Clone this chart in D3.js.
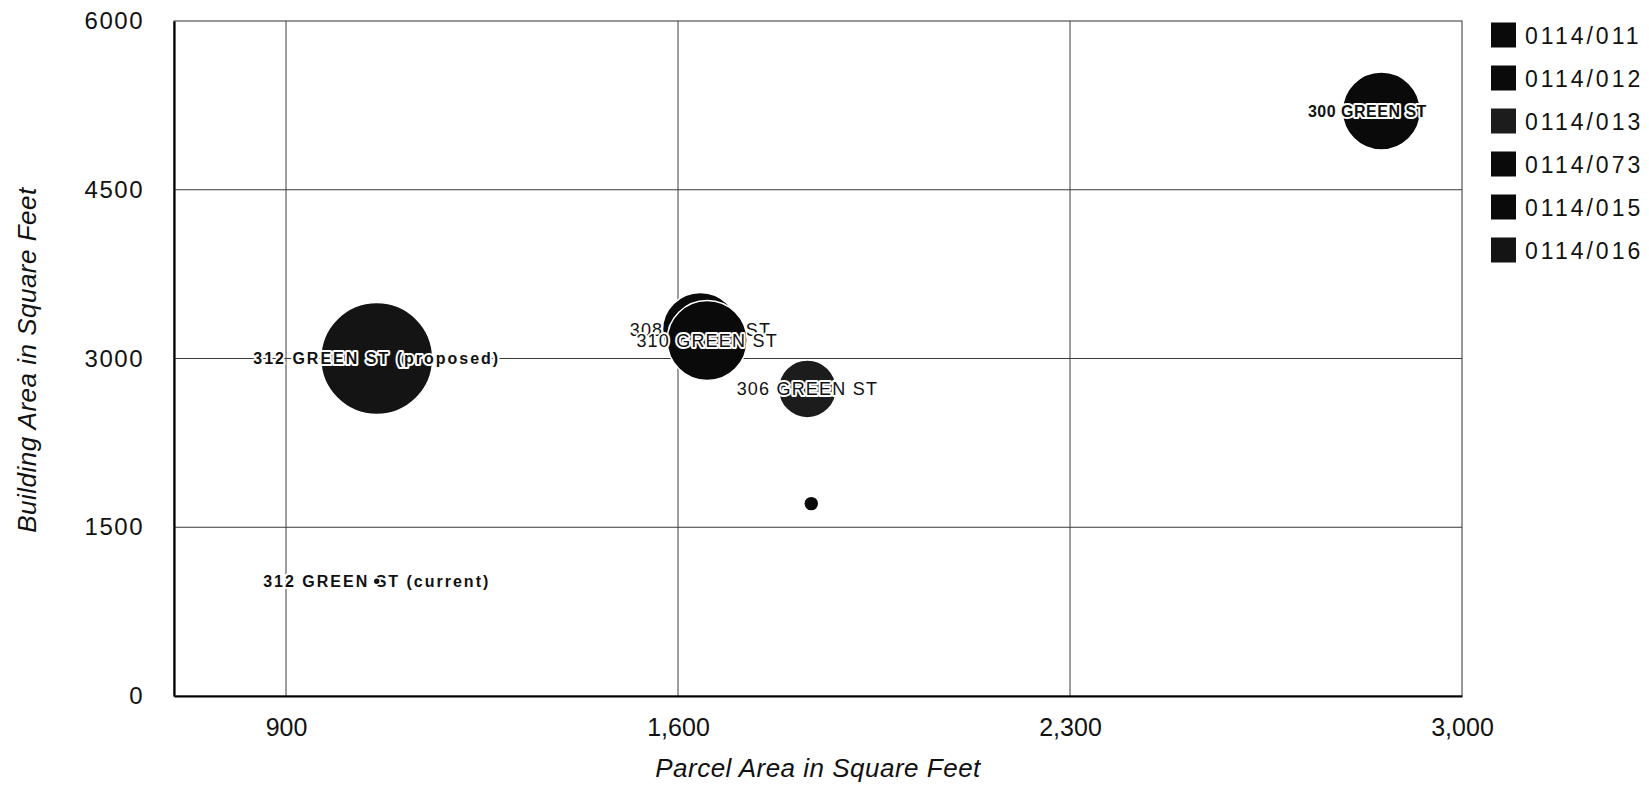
<!DOCTYPE html>
<html><head><meta charset="utf-8">
<script src="https://cdn.jsdelivr.net/npm/d3@7"></script>
<style>body{margin:0;background:#fff}</style>
</head><body><svg id="c" width="1649" height="791"></svg>
<script>
// ---- data ----
const parcels = ["0114/011","0114/012","0114/013","0114/073","0114/015","0114/016"];
const bubbleLabels = ["300 GREEN ST","308 GREEN ST","306 GREEN ST","310 GREEN ST","","312 GREEN ST (current)","312 GREEN ST (proposed)"];
const bubbleParcel = ["0114/011","0114/012","0114/013","0114/073","0114/015","0114/016","0114/016"];
const parcelArea = [2856, 1640, 1831, 1652, 1838, 1062, 1062];
const buildingArea = [5200, 3250, 2730, 3160, 1710, 1020, 3000];
const bubbleSize = [1521, 1444, 841, 1600, 56, 12, 3136];
const xTicks = [900, 1600, 2300, 3000];
const yTicks = [0, 1500, 3000, 4500, 6000];
const xTitle = "Parcel Area in Square Feet";
const yTitle = "Building Area in Square Feet";

// ---- layout ----
const W = 1649, H = 791;
const m = {left: 174, right: 187, top: 21, bottom: 95};
const iw = W - m.left - m.right, ih = H - m.top - m.bottom;
const FONT = "Arial, 'Liberation Sans', sans-serif";
const svg = d3.select("#c");
const g = svg.append("g").attr("transform", `translate(${m.left},${m.top})`);

const x = d3.scaleLinear().domain([700, 3000]).range([0, iw]);
const y = d3.scaleLinear().domain([0, 6000]).range([ih, 0]);
const r = d3.scaleSqrt().domain([0, 3136]).range([0, 56]);
const color = d3.scaleOrdinal().domain(parcels)
  .range(["#0a0a0a","#0a0a0a","#1c1c1c","#0a0a0a","#0a0a0a","#141414"]);

// gridlines
g.append("g").selectAll("line").data(xTicks.filter(v => v < 3000)).join("line")
  .attr("x1", d => x(d)).attr("x2", d => x(d)).attr("y1", 0).attr("y2", ih)
  .attr("stroke", "#3a3a3a").attr("stroke-width", 1);
g.append("g").selectAll("line").data(yTicks.filter(v => v > 0 && v < 6000)).join("line")
  .attr("y1", d => y(d)).attr("y2", d => y(d)).attr("x1", 0).attr("x2", iw)
  .attr("stroke", "#3a3a3a").attr("stroke-width", 1);
// frame
g.append("rect").attr("width", iw).attr("height", ih).attr("fill", "none")
  .attr("stroke", "#333").attr("stroke-width", 1);

// axes
const xAxis = g.append("g").attr("transform", `translate(0,${ih})`)
  .call(d3.axisBottom(x).tickValues(xTicks).tickFormat(d3.format(",")).tickSize(0).tickPadding(22));
const yAxis = g.append("g")
  .call(d3.axisLeft(y).tickValues(yTicks).tickFormat(d3.format("d")).tickSize(0).tickPadding(30));
[xAxis, yAxis].forEach(a => {
  a.select(".domain").attr("stroke", "#000").attr("stroke-width", 2.2);
  a.selectAll("text").attr("font-family", FONT).attr("fill", "#111");
});
xAxis.selectAll("text").attr("font-size", 25);
yAxis.selectAll("text").attr("font-size", 24).attr("letter-spacing", "1.5px");

// titles
svg.append("text").attr("x", 818).attr("y", 777)
  .attr("text-anchor", "middle").attr("font-family", FONT)
  .attr("font-style", "italic").attr("font-size", 26).attr("letter-spacing", "0.5px")
  .attr("fill", "#111").text(xTitle);
svg.append("text").attr("transform", `translate(36,${360}) rotate(-90)`)
  .attr("text-anchor", "middle").attr("font-family", FONT)
  .attr("font-style", "italic").attr("font-size", 26).attr("letter-spacing", "0.5px")
  .attr("fill", "#111").text(yTitle);

// bubbles + labels
const data = bubbleLabels.map((l, i) => ({label: l, parcel: bubbleParcel[i], px: parcelArea[i], by: buildingArea[i], s: bubbleSize[i]}));
const bg = g.append("g");
function drawCircle(d) {
  bg.append("circle").attr("cx", x(d.px)).attr("cy", y(d.by)).attr("r", r(d.s))
    .attr("fill", color(d.parcel)).attr("stroke", "#fff").attr("stroke-width", 1.5);
}
function drawLabel(d) {
  if (!d.label) return;
  const big = /^30[68]|^310/.test(d.label);
  const is300 = /^300/.test(d.label);
  bg.append("text").attr("x", x(d.px)).attr("y", y(d.by))
    .attr("dx", is300 ? -14 : 0)
    .attr("text-anchor", "middle").attr("dominant-baseline", "central")
    .attr("font-family", FONT)
    .attr("font-weight", big ? "normal" : "bold")
    .attr("font-size", big ? 18 : 16)
    .attr("letter-spacing", big ? "1.2px" : (is300 ? "0.5px" : "2px"))
    .attr("fill", "#111").attr("stroke", "#fff").attr("stroke-width", 4)
    .attr("stroke-linejoin", "round").attr("paint-order", "stroke")
    .text(d.label);
}
data.forEach(d => {
  if (r(d.s) < 5) { drawLabel(d); drawCircle(d); }
  else { drawCircle(d); drawLabel(d); }
});

// legend
const lg = svg.append("g").attr("transform", "translate(1491,35)");
const li = lg.selectAll("g").data(parcels).join("g").attr("transform", (d, i) => `translate(0,${i * 43})`);
li.append("rect").attr("x", 0).attr("y", -12.5).attr("width", 25).attr("height", 25).attr("fill", d => color(d));
li.append("text").attr("x", 34).attr("y", 1).attr("dominant-baseline", "central")
  .attr("font-family", FONT).attr("font-size", 23)
  .attr("letter-spacing", "3px").attr("fill", "#111").text(d => d);
</script></body></html>
